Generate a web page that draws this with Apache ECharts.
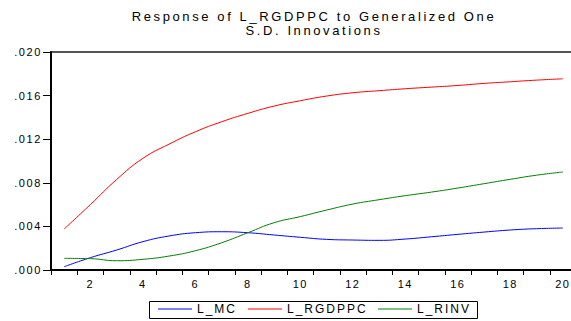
<!DOCTYPE html>
<html>
<head>
<meta charset="utf-8">
<script src="https://cdn.jsdelivr.net/npm/echarts@6/dist/echarts.min.js"></script>
<style>
  html, body { margin: 0; padding: 0; background: #fff; overflow: hidden; }
  /* plot frame runs a few pixels past the right edge of the window */
  #chart { width: 576px; height: 321px; }
  /* spaced-out lettering, wider for the 13px title */
  #chart text { letter-spacing: 2px; }
  #chart text[style*="11px"] { letter-spacing: 1.6px; }
  #chart text[style*="13px"] { letter-spacing: 2.6px; }
</style>
</head>
<body>
<div id="chart"></div>
<script>
// Impulse-response horizon (periods 1..20)
const periods = ['1','2','3','4','5','6','7','8','9','10','11','12','13','14','15','16','17','18','19','20'];

// Responses of L_RGDPPC to one-S.D. shocks
const lmc = [0.00030, 0.00113, 0.00183, 0.00260, 0.00312, 0.00342, 0.00351, 0.00342, 0.00321, 0.00300,
             0.00281, 0.00275, 0.00272, 0.00284, 0.00305, 0.00327, 0.00348, 0.00367, 0.00379, 0.00385];
const lrgdppc = [0.00376, 0.00600, 0.00830, 0.01024, 0.01155, 0.01268, 0.01360, 0.01437, 0.01504, 0.01553,
                 0.01596, 0.01626, 0.01645, 0.01663, 0.01678, 0.01693, 0.01712, 0.01727, 0.01742, 0.01754];
const lrinv = [0.00107, 0.00104, 0.00085, 0.00098, 0.00128, 0.00177, 0.00250, 0.00342, 0.00434, 0.00490,
               0.00550, 0.00605, 0.00645, 0.00682, 0.00715, 0.00752, 0.00792, 0.00832, 0.00870, 0.00899];

const seriesNames = ['L_MC', 'L_RGDPPC', 'L_RINV'];
const seriesColors = ['#0000ff', '#ff0000', '#008000'];
const seriesData = [lmc, lrgdppc, lrinv];

const titleLines = ['Response of L_RGDPPC to Generalized One', 'S.D. Innovations'];

const FONT = '"Liberation Sans", Arial, sans-serif';

const chart = echarts.init(document.getElementById('chart'), null, { renderer: 'svg' });

const legendLefts = [158, 248, 378];

chart.setOption({
  animation: false,
  backgroundColor: '#ffffff',
  title: {
    text: titleLines.join('\n'),
    left: 314,
    top: 9,
    padding: 0,
    textAlign: 'center',
    textVerticalAlign: 'top',
    textStyle: { fontFamily: FONT, fontSize: 13, fontWeight: 'normal', color: '#000', lineHeight: 14 }
  },
  legend: seriesNames.map((name, i) => ({
    data: [{ name, icon: 'rect', itemStyle: { color: seriesColors[i] } }],
    left: legendLefts[i],
    top: 303,
    padding: 0,
    itemWidth: 34,
    itemHeight: 1,
    itemGap: 0,
    textStyle: { fontFamily: FONT, fontSize: 12, color: '#000', padding: [0, 0, 2, 0] }
  })),
  graphic: [{
    type: 'rect',
    shape: { x: 149.5, y: 301.5, width: 328, height: 17 },
    style: { fill: 'none', stroke: '#000', lineWidth: 1 },
    silent: true
  }],
  grid: {
    left: 51, top: 52, right: 0, bottom: 51,
    show: true, borderColor: '#555', borderWidth: 2, backgroundColor: '#fff'
  },
  xAxis: {
    type: 'category',
    data: periods,
    boundaryGap: true,
    axisLine: { lineStyle: { color: '#000', width: 2 } },
    axisTick: { show: true, interval: 0, length: 5, inside: false, lineStyle: { color: '#000', width: 1 } },
    axisLabel: {
      interval: (idx) => idx % 2 === 1,
      margin: 8,
      fontFamily: FONT, fontSize: 11, color: '#000'
    },
    splitLine: { show: false }
  },
  yAxis: {
    type: 'value',
    min: 0, max: 0.02, interval: 0.004,
    axisLine: { show: true, lineStyle: { color: '#000', width: 2 } },
    axisTick: { show: true, length: 8, lineStyle: { color: '#000', width: 1 } },
    axisLabel: {
      margin: 9,
      fontFamily: FONT, fontSize: 11, color: '#000',
      formatter: (v) => v.toFixed(3).replace(/^0/, '')
    },
    splitLine: { show: false }
  },
  series: seriesNames.map((name, i) => ({
    name,
    type: 'line',
    data: seriesData[i],
    smooth: true,
    symbol: 'none',
    showSymbol: false,
    lineStyle: { color: seriesColors[i], width: 1 },
    itemStyle: { color: seriesColors[i] },
    z: 3
  }))
});
</script>
</body>
</html>
